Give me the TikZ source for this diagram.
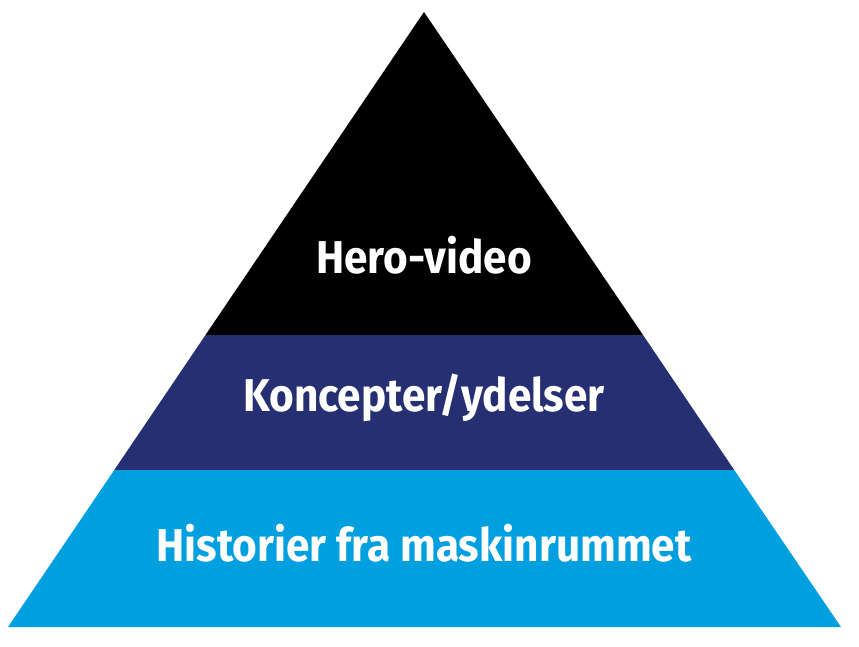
\documentclass[tikz,border=0pt]{standalone}
\usepackage{fontspec}
\setmainfont{Fira Sans}
\definecolor{navy}{HTML}{262F72}
\definecolor{lblue}{HTML}{009FE0}
\begin{document}
\begin{tikzpicture}[x=1pt,y=-1pt,
  lbl/.style={text=white,font=\fontsize{46}{50}\selectfont\bfseries,inner sep=0pt}]
\useasboundingbox (0,0) rectangle (859,647);
\coordinate (apex) at (424,12);
\coordinate (bl) at (8,627);
\coordinate (br) at (841,627);
\coordinate (l1) at (205.5,335);
\coordinate (r1) at (643,335);
\coordinate (l2) at (114.3,470);
\coordinate (r2) at (734.2,470);
\fill[black] (apex) -- (r1) -- (l1) -- cycle;
\fill[navy] (l1) -- (r1) -- (r2) -- (l2) -- cycle;
\fill[lblue] (l2) -- (r2) -- (br) -- (bl) -- cycle;
\node[lbl] (t1) at (424,255) {\scalebox{0.92}[1]{Hero-video}};
\node[lbl] (t2) at (424,398) {\scalebox{0.92}[1]{Koncepter/ydelser}};
\node[lbl] (t3) at (424,543) {\scalebox{0.92}[1]{Historier fra maskinrummet}};
\end{tikzpicture}
\end{document}
